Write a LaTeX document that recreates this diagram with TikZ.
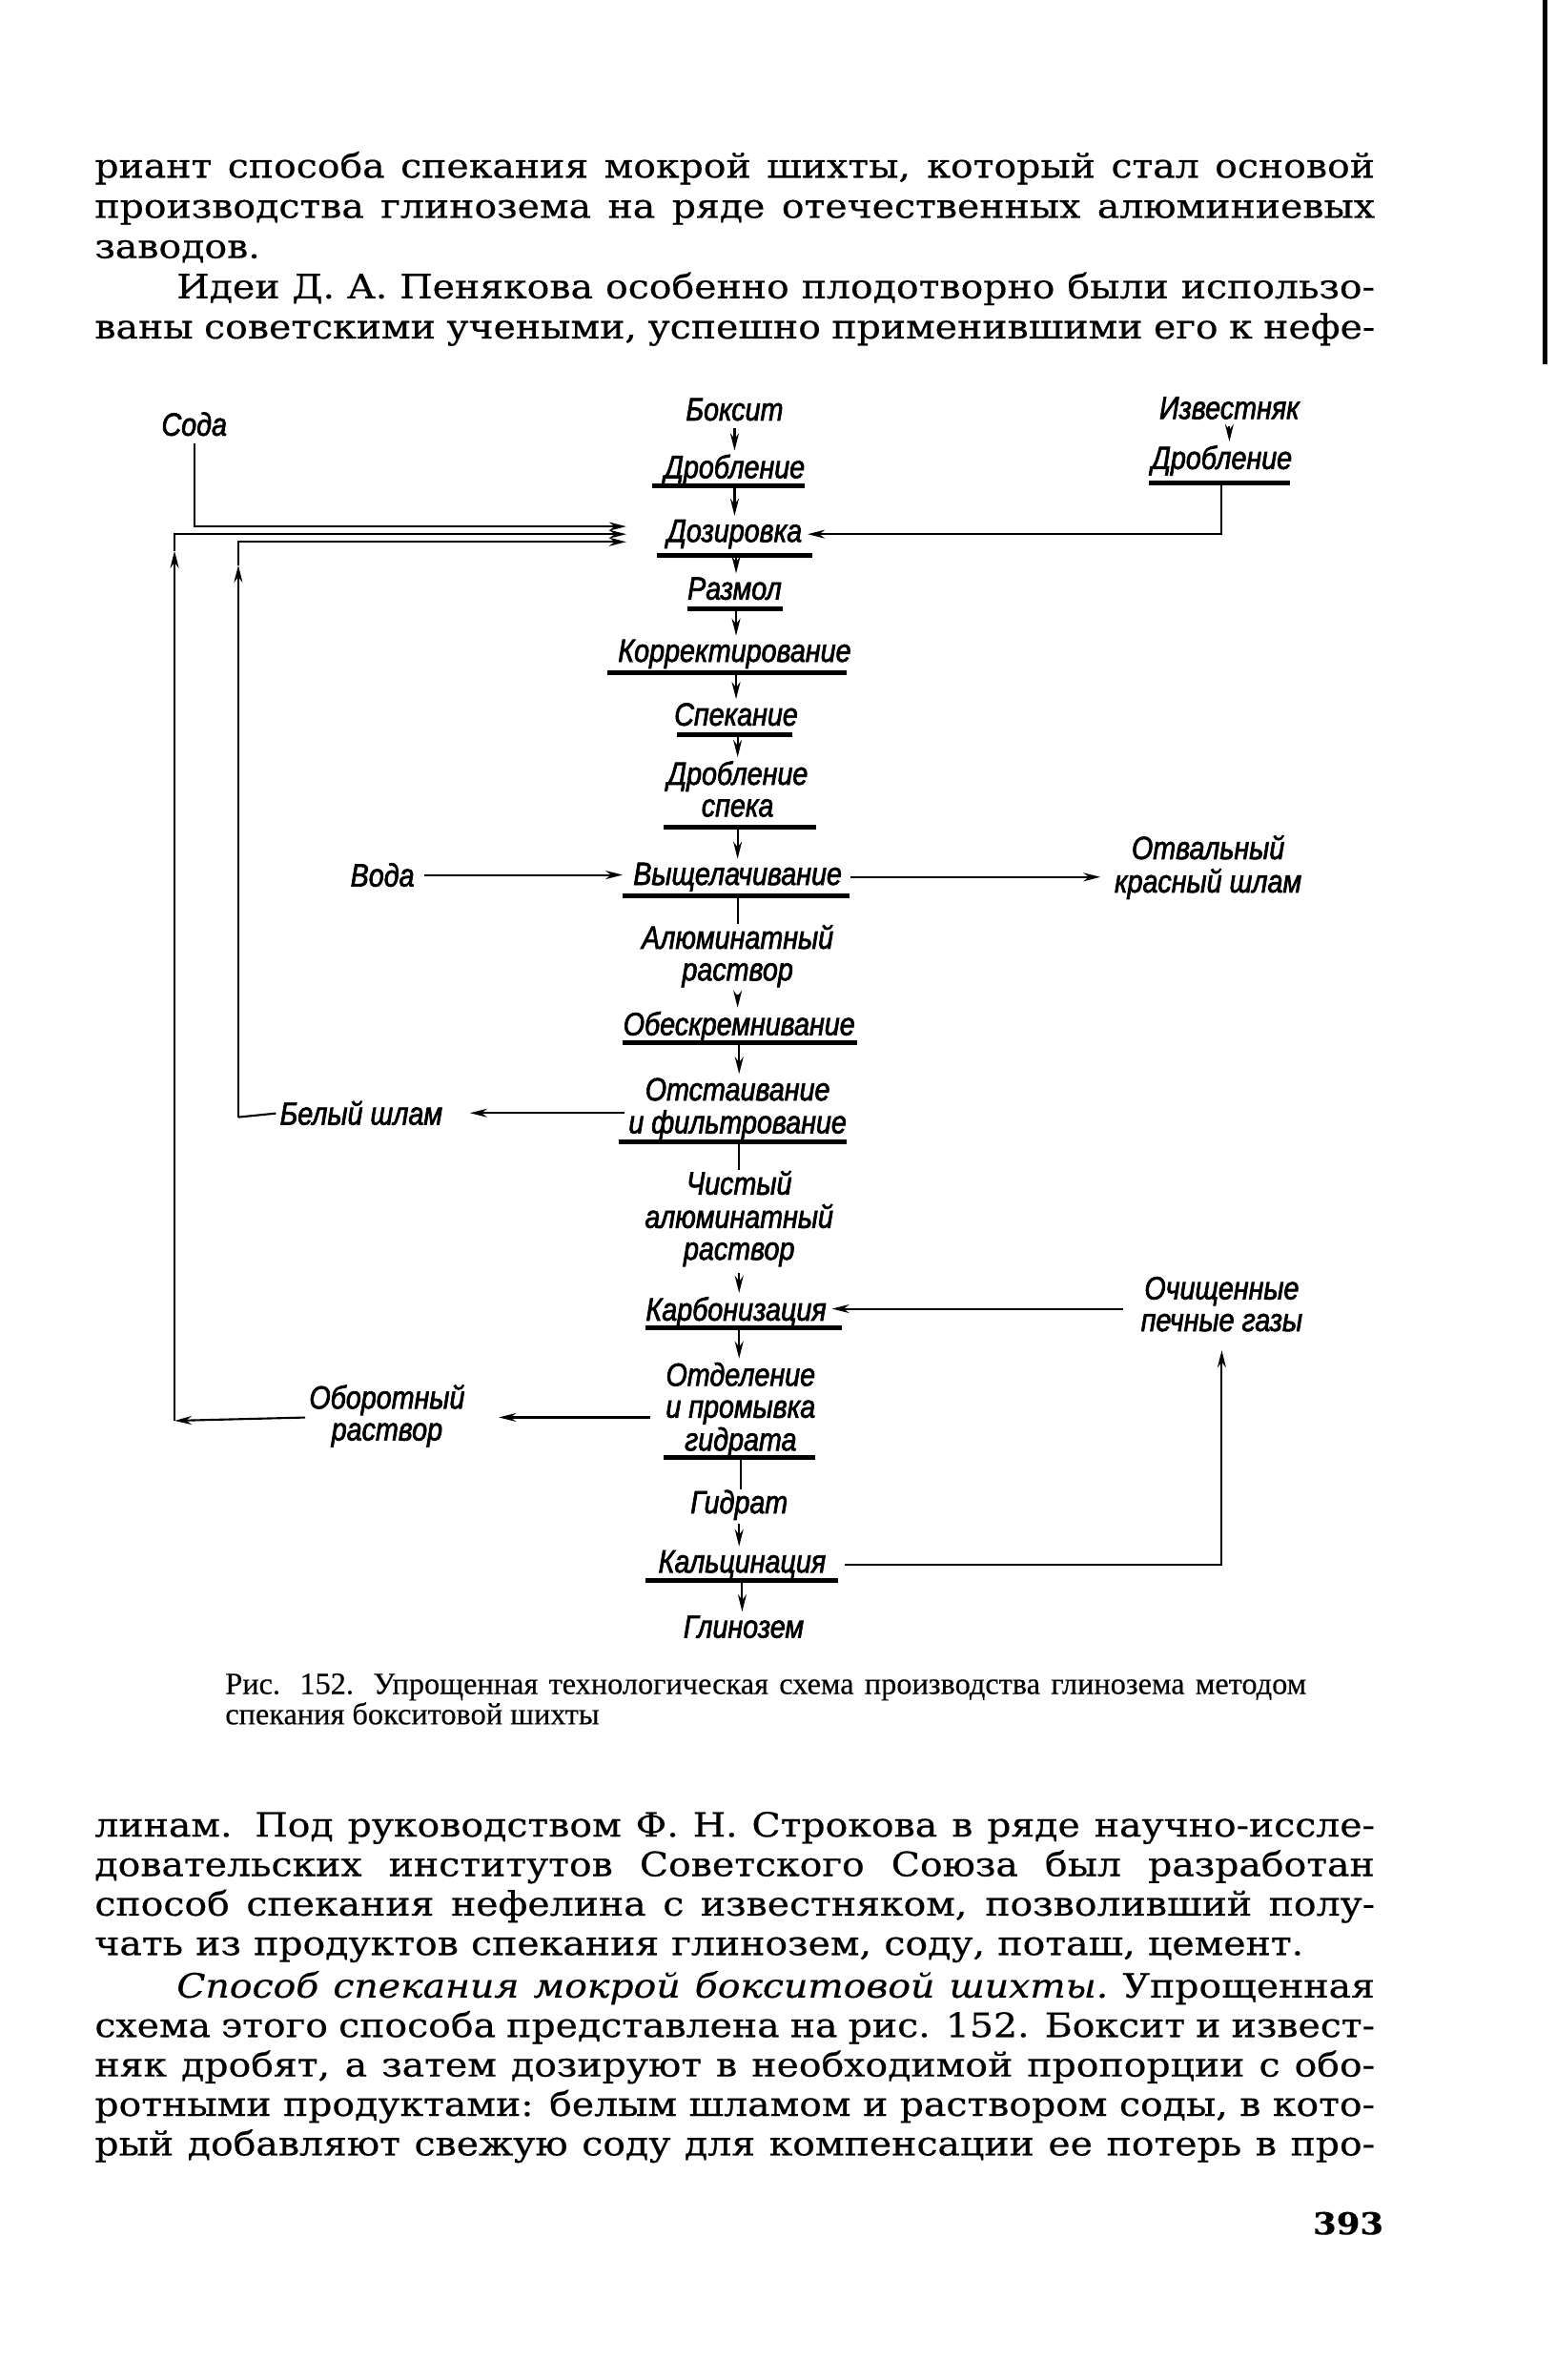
\documentclass[tikz,border=0pt]{standalone}
\usepackage{fontspec}
\setmainfont[FakeStretch=1.12, FakeBold=0.5]{DejaVu Serif}
\newfontfamily\capfont[FakeBold=0.3]{Liberation Serif}
\newfontfamily\dfont[FakeStretch=0.85, FakeBold=2]{Liberation Sans}
\usetikzlibrary{arrows.meta}
\newcommand{\ml}[1]{\begin{tabular}[t]{@{}c@{}}#1\end{tabular}}
\newcommand{\jl}[2]{\makebox[#1][s]{#2}}
\begin{document}
\begin{tikzpicture}[x=0.015922cm, y=-0.015922cm,
  lbl/.style={font=\dfont\itshape\fontsize{9.6}{9.5}\selectfont, inner sep=0pt, anchor=base},
  ul/.style={line width=1.4pt},
  ln/.style={line width=0.6pt},
  arr/.style={ln, -{Stealth[length=1.8mm,width=0.9mm]}},
  body/.style={font=\fontsize{10}{12}\selectfont, inner sep=0pt, anchor=base west},
  captxt/.style={font=\capfont\fontsize{9.2}{9}\selectfont, inner sep=0pt, anchor=base west},
]
\useasboundingbox (0,0) rectangle (1025,1568);
\fill[white] (0,0) rectangle (1025,1568);
% page edge
\draw[line width=1.5pt] (1018,0) -- (1018,240);

% body text, top
\node[body] (t1) at (62,117) {\jl{13.422cm}{риант способа спекания мокрой шихты, который стал основой}};
\node[body] (t2) at (62,143.5) {\jl{13.422cm}{производства глинозема на ряде отечественных алюминиевых}};
\node[body] (t3) at (62,170) {заводов.};
\node[body] (t4) at (116,196.5) {\jl{12.562cm}{Идеи Д. А. Пенякова особенно плодотворно были использо-}};
\node[body] (t5) at (62,223) {\jl{13.422cm}{ваны советскими учеными, успешно применившими его к нефе-}};

% diagram labels
\node[lbl] (soda) at (128,287) {Сода};
\node[lbl] (boksit) at (484,277) {Боксит};
\node[lbl] (izv) at (810,276) {Известняк};
\node[lbl] (drobL) at (484,315) {Дробление};
\node[lbl] (drobR) at (805,309) {Дробление};
\node[lbl] (dozir) at (484,357) {Дозировка};
\node[lbl] (razmol) at (484,395) {Размол};
\node[lbl] (korr) at (484,436) {Корректирование};
\node[lbl] (spek) at (485,478) {Спекание};
\node[lbl] (drobS) at (486,517) {\ml{Дробление\\спека}};
\node[lbl] (vysh) at (486,583) {Выщелачивание};
\node[lbl] (alum) at (486,625) {\ml{Алюминатный\\раствор}};
\node[lbl] (obes) at (487,682) {Обескремнивание};
\node[lbl] (otst) at (486,725) {\ml{Отстаивание\\и фильтрование}};
\node[lbl] (chist) at (487,787) {\ml{Чистый\\алюминатный\\раствор}};
\node[lbl] (karb) at (485,870) {Карбонизация};
\node[lbl] (otd) at (488,913) {\ml{Отделение\\и промывка\\гидрата}};
\node[lbl] (gidrat) at (487,997) {Гидрат};
\node[lbl] (kalc) at (489,1036) {Кальцинация};
\node[lbl] (glin) at (490,1079) {Глинозем};
\node[lbl] (voda) at (252,584) {Вода};
\node[lbl] (otval) at (796,566) {\ml{Отвальный\\красный шлам}};
\node[lbl] (belyi) at (238,741) {Белый шлам};
\node[lbl] (ochis) at (805,856) {\ml{Очищенные\\печные газы}};
\node[lbl] (oborot) at (255,928) {\ml{Оборотный\\раствор}};

% underlines
\draw[ul] (430,320) -- (530,320);
\draw[ul] (757,318) -- (850,318);
\draw[ul] (433,366) -- (535,366);
\draw[ul] (453,401) -- (516,401);
\draw[ul] (400,443) -- (558,443);
\draw[ul] (446,484) -- (522,484);
\draw[ul] (437,545) -- (538,545);
\draw[ul] (410,590) -- (560,590);
\draw[ul] (410,687) -- (565,687);
\draw[ul] (408,752) -- (558,752);
\draw[ul] (425,875) -- (555,875);
\draw[ul] (437,960) -- (537,960);
\draw[ul] (425,1041) -- (552,1041);

\coordinate (uDrobL) at (484,320);
\coordinate (uDrobR) at (805,318);
\coordinate (uDoz) at (485,366);
\coordinate (uRaz) at (485,401);
\coordinate (uKorr) at (485,443);
\coordinate (uSpek) at (486,484);
\coordinate (uDrobS) at (486,545);
\coordinate (uVysh) at (486,590);
\coordinate (uObes) at (487,687);
\coordinate (uOtst) at (487,752);
\coordinate (uKarb) at (487,875);
\coordinate (uOtd) at (488,960);
\coordinate (uKalc) at (489,1041);

% main column connectors
\draw[arr, shorten <=2pt, shorten >=1pt] (boksit.south) -- (boksit.south |- drobL.north);
\draw[arr, shorten <=2pt, shorten >=1pt] (izv.south) -- (izv.south |- drobR.north);
\draw[arr, shorten >=1pt] (uDrobL) -- (uDrobL |- dozir.north);
\draw[arr, shorten >=1pt] (uDoz) -- (uDoz |- razmol.north);
\draw[arr, shorten >=1pt] (uRaz) -- (uRaz |- korr.north);
\draw[arr, shorten >=1pt] (uKorr) -- (uKorr |- spek.north);
\draw[arr, shorten >=1pt] (uSpek) -- (uSpek |- drobS.north);
\draw[arr, shorten >=1pt] (uDrobS) -- (uDrobS |- vysh.north);
\draw[ln] (uVysh) -- (uVysh |- alum.north);
\draw[arr, shorten <=1pt, shorten >=1pt] (alum.south) -- (alum.south |- obes.north);
\draw[arr, shorten >=1pt] (uObes) -- (uObes |- otst.north);
\draw[ln] (uOtst) -- (uOtst |- chist.north);
\draw[arr, shorten <=1pt, shorten >=1pt] (chist.south) -- (chist.south |- karb.north);
\draw[arr, shorten >=1pt] (uKarb) -- (uKarb |- otd.north);
\draw[ln] (uOtd) -- (uOtd |- gidrat.north);
\draw[arr, shorten <=1pt, shorten >=1pt] (gidrat.south) -- (gidrat.south |- kalc.north);
\draw[arr, shorten >=1pt] (uKalc) -- (uKalc |- glin.north);

% inputs to Дозировка
\draw[arr, shorten >=1.5pt] (uDrobR) -- (uDrobR |- dozir.east) -- (dozir.east);
\coordinate (in1) at ([xshift=-12pt, yshift=2.3pt]dozir.west);
\coordinate (in2) at ([xshift=-12pt]dozir.west);
\coordinate (in3) at ([xshift=-12pt, yshift=-2.3pt]dozir.west);
\draw[arr, shorten <=2pt] (soda.south) -- (soda.south |- in1) -- (in1);
% return: оборотный раствор
\coordinate (oc) at (115,936);
\coordinate (oTop) at (oc |- in2);
\coordinate (oMid) at ([yshift=-5pt]oTop);
\draw[arr, shorten <=1pt] (oborot.west) -- (oc);
\draw[arr] (oc) -- (oMid);
\draw[arr] (oMid) -- (oTop) -- (in2);
% return: белый шлам
\coordinate (ic) at (157,736);
\coordinate (iTop) at (ic |- in3);
\coordinate (iMid) at ([yshift=-7pt]iTop);
\draw[ln, shorten <=1pt] (belyi.west) -- (ic);
\draw[arr] (ic) -- (iMid);
\draw[arr] (iMid) -- (iTop) -- (in3);

% side arrows
\draw[arr, shorten <=2.7pt, shorten >=3pt] (voda.east) -- (voda.east -| vysh.west);
\draw[arr, shorten <=2.5pt, shorten >=4pt] (vysh.east) -- (vysh.east -| otval.west);
\draw[arr, shorten <=1pt, shorten >=8pt] (otst.west |- belyi.east) -- (belyi.east);
\draw[arr, shorten <=5pt, shorten >=1.5pt] (ochis.west) -- (ochis.west -| karb.east);
\draw[arr, shorten <=4.5pt, shorten >=10pt] (otd.west |- oborot.west) -- (oborot.east);
\draw[arr, shorten <=5.4pt, shorten >=2.7pt] (kalc.east) -- (kalc.east -| ochis.south) -- (ochis.south);

% caption
\node[captxt] (c1) at (148,1116) {\jl{11.336cm}{Рис. 152. Упрощенная технологическая схема производства глинозема методом}};
\node[captxt] (c2) at (148,1136) {спекания бокситовой шихты};

% body text, bottom
\node[body] (b1) at (62,1210) {\jl{13.422cm}{линам. Под руководством Ф. Н. Строкова в ряде научно-иссле-}};
\node[body] (b2) at (62,1236) {\jl{13.422cm}{довательских институтов Советского Союза был разработан}};
\node[body] (b3) at (62,1262) {\jl{13.422cm}{способ спекания нефелина с известняком, позволивший полу-}};
\node[body] (b4) at (62,1288) {\jl{12.674cm}{чать из продуктов спекания глинозем, соду, поташ, цемент.}};
\node[body] (b5) at (116,1316) {\jl{12.562cm}{\itshape Способ спекания мокрой бокситовой шихты.\upshape\ Упрощенная}};
\node[body] (b6) at (62,1342) {\jl{13.422cm}{схема этого способа представлена на рис. 152. Боксит и извест-}};
\node[body] (b7) at (62,1368) {\jl{13.422cm}{няк дробят, а затем дозируют в необходимой пропорции с обо-}};
\node[body] (b8) at (62,1394) {\jl{13.422cm}{ротными продуктами: белым шламом и раствором соды, в кото-}};
\node[body] (b9) at (62,1420) {\jl{13.422cm}{рый добавляют свежую соду для компенсации ее потерь в про-}};
\node[body, anchor=base east, font=\bfseries\fontsize{9}{11}\selectfont] (pg) at (912,1472) {393};
\end{tikzpicture}
\end{document}
